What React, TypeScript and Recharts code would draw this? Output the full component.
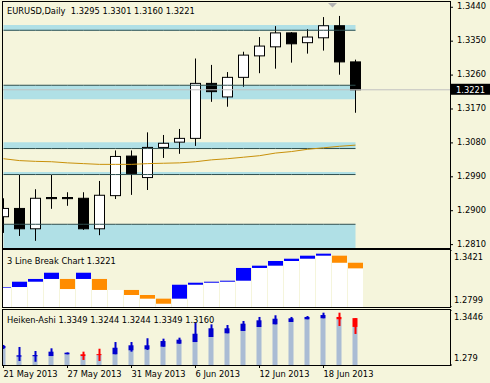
import {
  ComposedChart,
  Bar,
  Line,
  Area,
  XAxis,
  YAxis,
  ReferenceLine,
} from 'recharts';

const FONT = '"DejaVu Sans", Verdana, sans-serif';
const BG = '#F5F5DC';
const FS = 8.3;

// --- data ---
const dates = [
  '21 May 2013', '22 May 2013', '23 May 2013', '24 May 2013', '27 May 2013', '28 May 2013',
  '29 May 2013', '30 May 2013', '31 May 2013', '3 Jun 2013', '4 Jun 2013', '5 Jun 2013',
  '6 Jun 2013', '7 Jun 2013', '10 Jun 2013', '11 Jun 2013', '12 Jun 2013', '13 Jun 2013',
  '14 Jun 2013', '17 Jun 2013', '18 Jun 2013', '19 Jun 2013', '20 Jun 2013',
];

const opens = [1.2884, 1.2906, 1.2852, 1.2935, 1.2935, 1.2933, 1.2852, 1.2940, 1.3045, 1.2988, 1.3068, 1.3082, 1.3092, 1.3238, 1.3202, 1.3254, 1.3311, 1.3335, 1.3372, 1.3346, 1.3359, 1.3391, 1.3295];
const highs = [1.2933, 1.2995, 1.2957, 1.2995, 1.2949, 1.2949, 1.2979, 1.3060, 1.3060, 1.3108, 1.3101, 1.3117, 1.3304, 1.3287, 1.3268, 1.3322, 1.3361, 1.3390, 1.3374, 1.3382, 1.3414, 1.3417, 1.3301];
const lows = [1.2841, 1.2833, 1.2820, 1.2905, 1.2913, 1.2849, 1.2835, 1.2931, 1.2942, 1.2955, 1.3040, 1.3051, 1.3072, 1.3189, 1.3176, 1.3229, 1.3265, 1.3277, 1.3293, 1.3317, 1.3325, 1.3261, 1.3160];
const closes = [1.2906, 1.2852, 1.2933, 1.2932, 1.2932, 1.2852, 1.2941, 1.3044, 1.2999, 1.3068, 1.3079, 1.3092, 1.3238, 1.3216, 1.3254, 1.3313, 1.3337, 1.3372, 1.3343, 1.3361, 1.3391, 1.3295, 1.3221];
const movingAvg = [1.3038, 1.3033, 1.3031, 1.3030, 1.3027, 1.3025, 1.3023, 1.3023, 1.3023, 1.3025, 1.3026, 1.3027, 1.3030, 1.3035, 1.3038, 1.3042, 1.3046, 1.3053, 1.3057, 1.3063, 1.3067, 1.3071, 1.3074];

const zoneTop = [1.3393, 1.3233, 1.3082, 1.3003, 1.2864];
const zoneBottom = [1.3378, 1.3196, 1.3065, 1.2996, 1.2801];
const zoneEdge = [1.3379, 1.3233, 1.3065, 1.2996, 1.2864];

const priceTicks = [1.3440, 1.3350, 1.3260, 1.3170, 1.3080, 1.2990, 1.2900, 1.2810];
const lastPrice = 1.3221;

const lbHigh = [1.3017, 1.3075, 1.3105, 1.3173, 1.3105, 1.3173, 1.3105, 1.2985, 1.2985, 1.2930, 1.2890, 1.3042, 1.3064, 1.3075, 1.3086, 1.3225, 1.3250, 1.3301, 1.3326, 1.3359, 1.3381, 1.3359, 1.3282];
const lbLow = [1.3010, 1.3017, 1.3075, 1.3105, 1.2995, 1.3105, 1.2985, 1.2985, 1.2930, 1.2890, 1.2835, 1.2890, 1.3042, 1.3064, 1.3075, 1.3086, 1.3225, 1.3250, 1.3301, 1.3326, 1.3359, 1.3282, 1.3221];
const lbDir = ['up', 'up', 'up', 'up', 'down', 'up', 'down', 'none', 'down', 'down', 'down', 'up', 'up', 'up', 'up', 'up', 'up', 'up', 'up', 'up', 'up', 'down', 'down'];
const lbRange = [1.2799, 1.3421];

const haOpen = [1.2993, 1.2889, 1.2894, 1.2897, 1.2918, 1.2918, 1.2920, 1.2918, 1.2965, 1.2977, 1.3008, 1.3044, 1.3064, 1.3124, 1.3168, 1.3196, 1.3243, 1.3275, 1.3303, 1.3335, 1.3347, 1.3363, 1.3349];
const haHigh = [1.3029, 1.3005, 1.2957, 1.2989, 1.2940, 1.2949, 1.2984, 1.3064, 1.3064, 1.3109, 1.3104, 1.3116, 1.3295, 1.3275, 1.3267, 1.3315, 1.3363, 1.3383, 1.3363, 1.3374, 1.3414, 1.3414, 1.3349];
const haLow = [1.2981, 1.2838, 1.2829, 1.2897, 1.2917, 1.2850, 1.2838, 1.2918, 1.2949, 1.2969, 1.3008, 1.3044, 1.3064, 1.3124, 1.3168, 1.3196, 1.3243, 1.3275, 1.3303, 1.3335, 1.3347, 1.3255, 1.3160];
const haClose = [1.3017, 1.2906, 1.2909, 1.2949, 1.2937, 1.2897, 1.2910, 1.2996, 1.3025, 1.3025, 1.3076, 1.3092, 1.3163, 1.3228, 1.3228, 1.3283, 1.3323, 1.3342, 1.3347, 1.3363, 1.3386, 1.3335, 1.3244];
const haRange = [1.279, 1.3446];

const rows = dates.map((date, i) => {
  const row: any = {
    date,
    open: opens[i],
    high: highs[i],
    low: lows[i],
    close: closes[i],
    ma: movingAvg[i],
    lbHigh: lbHigh[i],
    lbLow: lbLow[i],
    lbDir: lbDir[i],
    haOpen: haOpen[i],
    haHigh: haHigh[i],
    haLow: haLow[i],
    haClose: haClose[i],
  };
  zoneTop.forEach((t, z) => {
    row[`zone${z}`] = [zoneBottom[z], t];
    row[`edge${z}`] = zoneEdge[z];
  });
  return row;
});

// bars 16px apart, first one half cut by the left frame
const PLOT_W = 447;
const STEP = 16;
const xPad = { left: -7.5, right: PLOT_W - (-7.5 + STEP * dates.length) };

const centerOf = (x: number, width: number) => Math.floor(x + width / 2) + 0.5;

const CandleShape = (props: any) => {
  const { x, y, width, height, payload } = props;
  const { open, close, high, low } = payload;
  const top = Math.min(y, y + height);
  const bottom = Math.max(y, y + height);
  const k = (bottom - top) / (high - low);
  const py = (v: number) => top + (high - v) * k;
  const cx = centerOf(x, width);
  const bTop = py(Math.max(open, close));
  const bBot = py(Math.min(open, close));
  return (
    <g>
      <line x1={cx} x2={cx} y1={top} y2={bottom} stroke="#000" strokeWidth={1} />
      <rect
        x={cx - 5}
        y={bTop}
        width={10}
        height={Math.max(bBot - bTop, 1)}
        fill={close >= open ? '#fff' : '#000'}
        stroke="#000"
        strokeWidth={1}
      />
    </g>
  );
};

const LineBreakShape = (props: any) => {
  const { x, y, width, height, payload } = props;
  const top = Math.min(y, y + height);
  const bottom = Math.max(y, y + height);
  const k = (bottom - top) / (payload.lbHigh - lbRange[0]);
  const loY = top + (payload.lbHigh - payload.lbLow) * k;
  const cx = centerOf(x, width);
  const color = payload.lbDir === 'up' ? '#0000FF' : '#FF8C00';
  return (
    <g>
      <rect x={cx - 7.5} y={loY} width={15} height={bottom - loY} fill="#fff" />
      {loY - top > 0 && <rect x={cx - 7.5} y={top} width={15} height={loY - top} fill={color} />}
    </g>
  );
};

const HeikenShape = (props: any) => {
  const { x, y, width, height, payload } = props;
  const { haOpen: o, haClose: c, haHigh: h, haLow: l } = payload;
  const top = Math.min(y, y + height);
  const bottom = Math.max(y, y + height);
  const k = (bottom - top) / (h - haRange[0]);
  const py = (v: number) => top + (h - v) * k;
  const cx = centerOf(x, width);
  const color = c >= o ? '#0000CD' : '#FF0000';
  const bTop = py(Math.max(o, c));
  const bBot = py(Math.min(o, c));
  return (
    <g>
      <rect x={cx - 3} y={bBot} width={5} height={bottom - bBot} fill="#AABCD4" />
      <rect x={cx - 1} y={py(h)} width={2} height={py(l) - py(h)} fill={color} />
      <rect x={cx - 3} y={bTop} width={5} height={Math.max(bBot - bTop, 1)} fill={color} />
    </g>
  );
};

const PriceTick = (props: any) => {
  const { x, y, payload } = props;
  return (
    <text x={x} y={y} dy={2} fontSize={FS} fontFamily={FONT} fill="#000" textAnchor="start">
      {payload.value.toFixed(4)}
    </text>
  );
};

const edgeTick = (max: number) => (props: any) => {
  const { x, y, payload } = props;
  const isMax = payload.value === max;
  return (
    <text x={x} y={y + (isMax ? 10 : -4)} fontSize={FS} fontFamily={FONT} fill="#000" textAnchor="start">
      {String(payload.value)}
    </text>
  );
};

const DateTick = (props: any) => {
  const { x, y, payload } = props;
  return (
    <text x={x} y={y} dy={6} fontSize={FS} fontFamily={FONT} fill="#000" textAnchor="start">
      {payload.value}
    </text>
  );
};

const PriceTag = (props: any) => {
  const { viewBox } = props;
  const left = viewBox.x + viewBox.width + 1;
  return (
    <g>
      <rect x={left} y={viewBox.y - 6} width={39} height={11} fill="#000" />
      <text x={left + 5} y={viewBox.y + 3} fontSize={FS} fontFamily={FONT} fill="#fff">
        {lastPrice.toFixed(4)}
      </text>
    </g>
  );
};

const frame = (top: number, height: number): React.CSSProperties => ({
  position: 'absolute',
  left: 2,
  top,
  width: 449,
  height,
  boxSizing: 'border-box',
  border: '1px solid #000',
  pointerEvents: 'none',
});

const caption = (top: number): React.CSSProperties => ({
  position: 'absolute',
  left: 7,
  top,
  fontSize: FS,
  fontFamily: FONT,
  lineHeight: '10px',
  whiteSpace: 'pre',
  color: '#000',
});

export default function App() {
  const margin = { top: 0, right: 0, bottom: 0, left: 0 };
  return (
    <div style={{ position: 'absolute', left: 0, top: 0, width: 490, height: 383, background: BG, overflow: 'hidden' }}>
      {/* main price pane */}
      <div style={{ position: 'absolute', left: 3, top: 2 }}>
        <ComposedChart width={487} height={246} data={rows} margin={margin}>
          <XAxis dataKey="date" hide padding={xPad} />
          <YAxis
            orientation="right"
            width={40}
            type="number"
            domain={[1.2801, 1.3454]}
            allowDataOverflow
            ticks={priceTicks}
            interval={0}
            axisLine={false}
            tickLine={{ stroke: '#000' }}
            tickSize={3}
            tickMargin={4}
            tick={<PriceTick />}
          />
          {zoneTop.map((_, z) => (
            <Area
              key={`zone${z}`}
              dataKey={`zone${z}`}
              type="linear"
              fill="#B0E0E6"
              fillOpacity={1}
              stroke="none"
              isAnimationActive={false}
            />
          ))}
          {zoneTop.map((_, z) => (
            <Line
              key={`edge${z}`}
              dataKey={`edge${z}`}
              type="linear"
              stroke="#2F4F4F"
              strokeWidth={1}
              dot={false}
              isAnimationActive={false}
            />
          ))}
          <ReferenceLine y={lastPrice} stroke="#C0C0C0" strokeWidth={1} label={<PriceTag />} />
          <Bar
            dataKey={(d: any) => [d.low, d.high]}
            barSize={STEP}
            shape={<CandleShape />}
            isAnimationActive={false}
          />
          <Line dataKey="ma" type="linear" stroke="#C8900A" strokeWidth={1} dot={false} isAnimationActive={false} />
        </ComposedChart>
      </div>
      <svg style={{ position: 'absolute', left: 327, top: 2 }} width={12} height={7}>
        <polygon points="1,1 10,1 5.5,5.5" fill="#B4B4B4" />
      </svg>
      <div style={caption(6)}>{'EURUSD,Daily  1.3295 1.3301 1.3160 1.3221'}</div>
      <div style={frame(1, 248)} />

      {/* 3 line break pane */}
      <div style={{ position: 'absolute', left: 3, top: 250 }}>
        <ComposedChart width={487} height={57} data={rows} margin={margin}>
          <XAxis dataKey="date" hide padding={xPad} />
          <YAxis
            orientation="right"
            width={40}
            type="number"
            domain={lbRange}
            allowDataOverflow
            ticks={lbRange}
            interval={0}
            axisLine={false}
            tickLine={{ stroke: '#000' }}
            tickSize={2}
            tickMargin={2}
            tick={edgeTick(lbRange[1])}
          />
          <Bar
            dataKey={(d: any) => [lbRange[0], d.lbHigh]}
            barSize={STEP}
            shape={<LineBreakShape />}
            isAnimationActive={false}
          />
        </ComposedChart>
      </div>
      <div style={caption(256)}>3 Line Break Chart 1.3221</div>
      <div style={frame(249, 59)} />

      {/* heiken-ashi pane */}
      <div style={{ position: 'absolute', left: 3, top: 310 }}>
        <ComposedChart width={487} height={73} data={rows} margin={margin}>
          <XAxis
            dataKey="date"
            padding={xPad}
            height={18}
            interval={3}
            axisLine={false}
            tickLine={{ stroke: '#000' }}
            tickSize={3}
            tickMargin={3}
            tick={<DateTick />}
          />
          <YAxis
            orientation="right"
            width={40}
            type="number"
            domain={haRange}
            allowDataOverflow
            ticks={haRange}
            interval={0}
            axisLine={false}
            tickLine={{ stroke: '#000' }}
            tickSize={2}
            tickMargin={2}
            tick={edgeTick(haRange[1])}
          />
          <Bar
            dataKey={(d: any) => [haRange[0], d.haHigh]}
            barSize={STEP}
            shape={<HeikenShape />}
            isAnimationActive={false}
          />
        </ComposedChart>
      </div>
      <div style={caption(315)}>Heiken-Ashi 1.3349 1.3244 1.3244 1.3349 1.3160</div>
      <div style={frame(309, 57)} />
    </div>
  );
}
